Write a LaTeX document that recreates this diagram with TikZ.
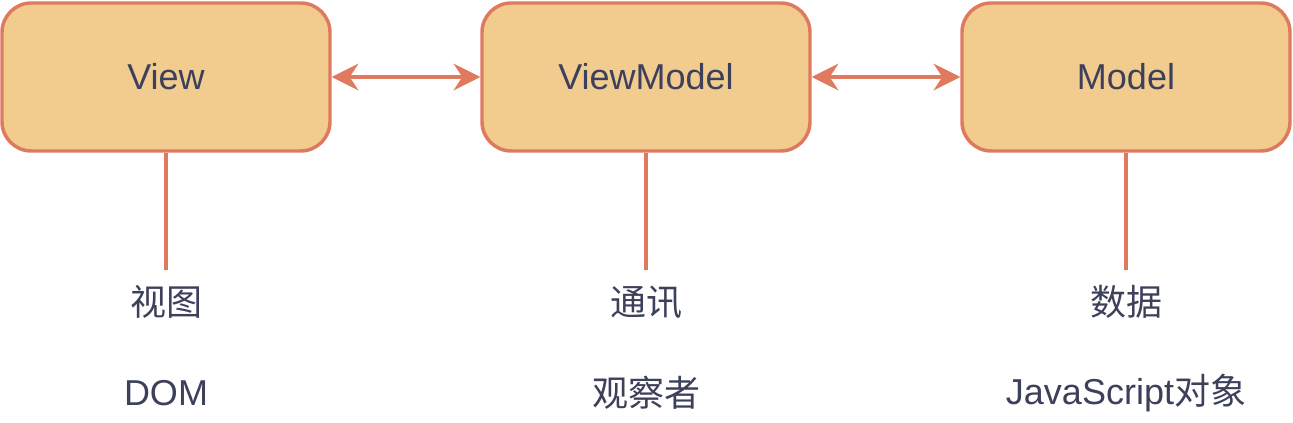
\documentclass[tikz,border=0pt]{standalone}
\usepackage{fontspec}
\setmainfont{Liberation Sans}
\newfontfamily\cjk{Noto Sans CJK SC}
\usetikzlibrary{arrows.meta}

\definecolor{boxfill}{HTML}{F2CC8F}
\definecolor{boxline}{HTML}{E07A5F}
\definecolor{inkgray}{HTML}{3D405B}

\tikzset{
  layer/.style={draw=boxline, fill=boxfill, line width=2.6pt, rounded corners=22pt,
    minimum width=246pt, minimum height=111pt, text=inkgray, font=\fontsize{27}{32}\selectfont},
  caption/.style={text=inkgray, font=\fontsize{27}{32}\selectfont, inner sep=0pt},
  link/.style={draw=boxline, line width=2.3pt},
  both/.style={link, {Stealth[length=20pt,width=20pt]}-{Stealth[length=20pt,width=20pt]}}
}

\begin{document}
\begin{tikzpicture}[x=0.75pt, y=-0.75pt]
			\useasboundingbox (0, 0) rectangle (1293, 423);
			
			\node[layer] (view) at (166, 77) {View};
			\node[layer] (vm) at (646, 77) {ViewModel};
			\node[layer] (model) at (1126, 77) {Model};
			
			\coordinate (viewend) at (166, 270);
			\coordinate (vmend) at (646, 270);
			\coordinate (modelend) at (1126, 270);
			
			\draw[link] (view.south) -- (viewend);
			\draw[link] (vm.south) -- (vmend);
			\draw[link] (model.south) -- (modelend);
			
			\draw[both] (view.east) -- (vm.west);
			\draw[both] (vm.east) -- (model.west);
			
			\node[caption] (viewcn) at (166, 302) {\cjk 视图};
			\node[caption] (vmcn) at (646, 302) {\cjk 通讯};
			\node[caption] (modelcn) at (1126, 302) {\cjk 数据};
			
			\node[caption] (viewen) at (166, 393) {DOM};
			\node[caption] (vmen) at (646, 393) {\cjk 观察者};
			\node[caption] (modelen) at (1126, 393) {JavaScript{\cjk 对象}};
\end{tikzpicture}
\end{document}
